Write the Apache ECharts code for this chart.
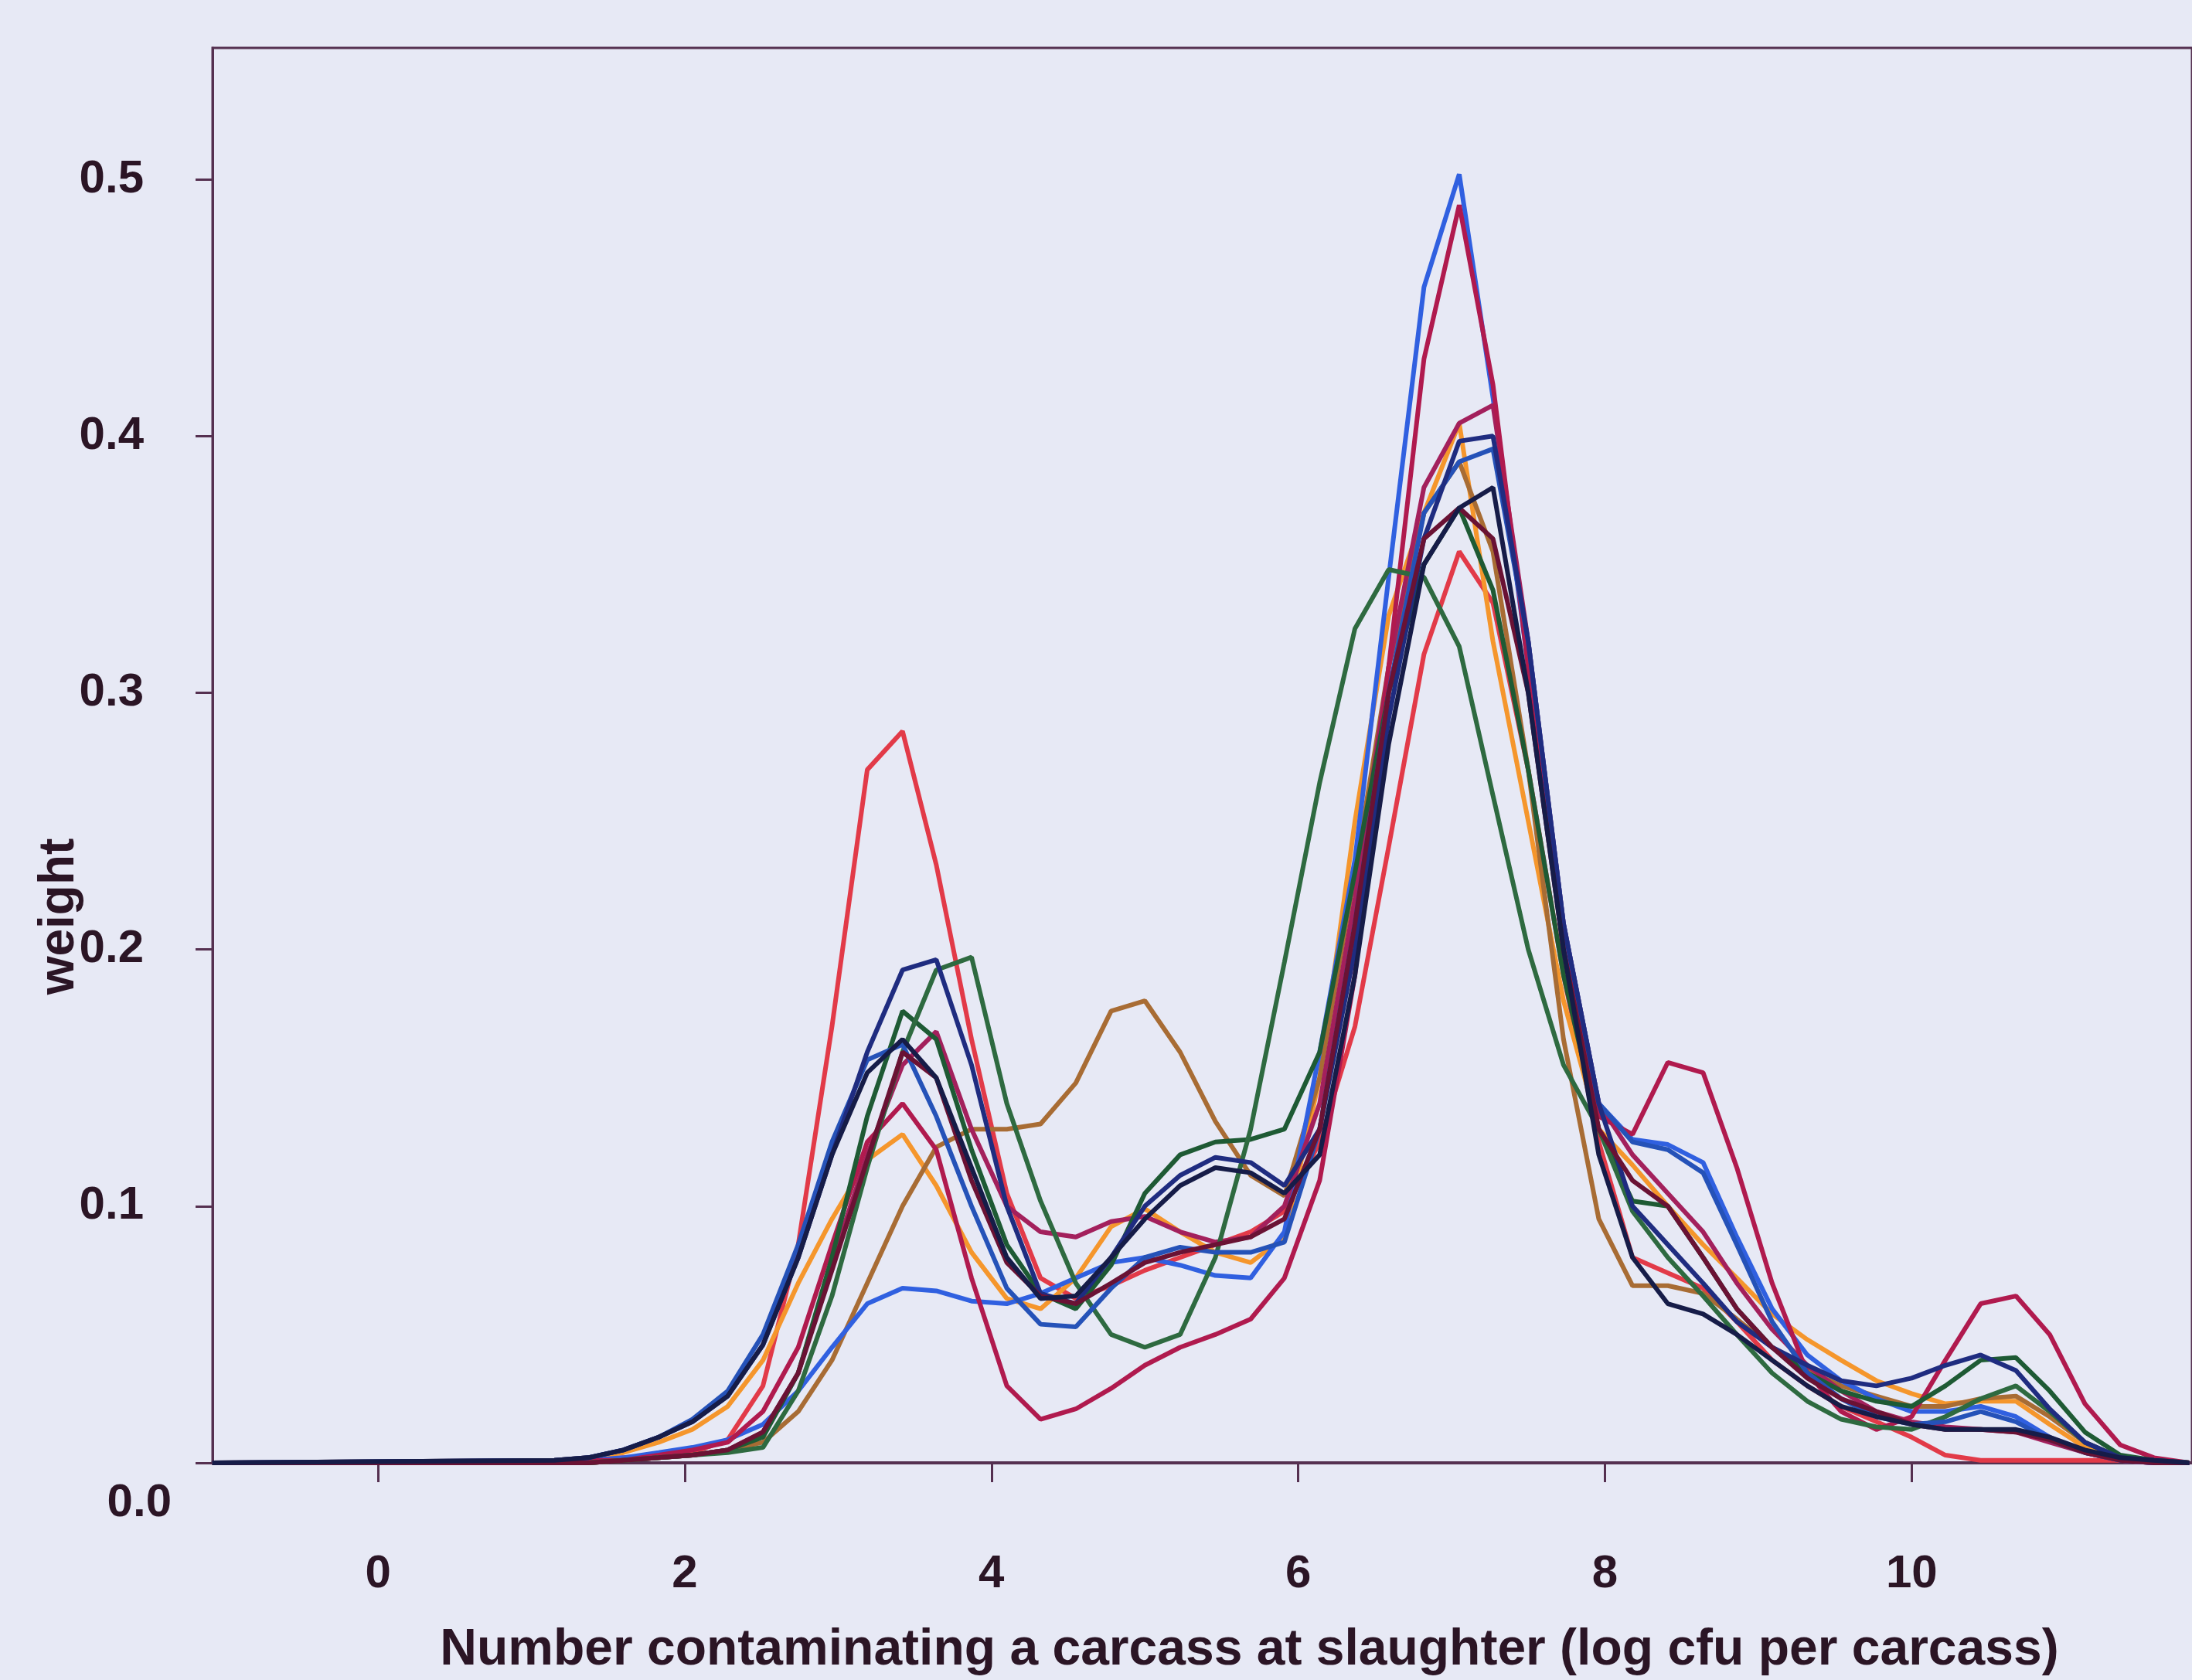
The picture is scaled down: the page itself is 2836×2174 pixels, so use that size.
<!DOCTYPE html>
<html>
<head>
<meta charset="utf-8">
<script src="https://cdn.jsdelivr.net/npm/echarts@6/dist/echarts.min.js"></script>
<style>
html,body{margin:0;padding:0;background:#e7e9f5;}
#chart{width:2836px;height:2174px;}
</style>
</head>
<body>
<div id="chart"></div>
<script>
// x grid (log cfu per carcass)
const xValues = [-1.08, 1.15, 1.37, 1.60, 1.83, 2.05, 2.28, 2.51, 2.74, 2.96, 3.19, 3.42, 3.64, 3.87, 4.10, 4.32, 4.55, 4.78, 5.00, 5.23, 5.46, 5.69, 5.91, 6.14, 6.37, 6.59, 6.82, 7.05, 7.27, 7.50, 7.73, 7.96, 8.18, 8.41, 8.64, 8.86, 9.09, 9.32, 9.54, 9.77, 10.00, 10.22, 10.45, 10.68, 10.90, 11.13, 11.36, 11.58, 11.81];

const xTickValues = [0, 2, 4, 6, 8, 10];
const yTickValues = [0, 0.1, 0.2, 0.3, 0.4, 0.5];
const yLabelValues = [0.1, 0.2, 0.3, 0.4, 0.5];
const yZeroLabel = [0];

const red = [0, 0,0.001,0.002,0.003,0.004,0.009,0.03,0.085, 0.17,0.27,0.285,0.233,0.165,0.105,0.072,0.064, 0.069,0.075,0.08,0.085,0.09,0.098,0.125,0.17, 0.24,0.315,0.355,0.335,0.27,0.19,0.125,0.08, 0.074,0.068,0.055,0.04,0.03,0.022,0.016,0.01, 0.003,0.001,0.001,0.001,0.001,0.001,0,0];
const blue = [0, 0,0.001,0.002,0.004,0.006,0.009,0.015,0.028, 0.045,0.062,0.068,0.067,0.063,0.062,0.066,0.072, 0.078,0.08,0.077,0.073,0.072,0.09,0.16,0.235, 0.345,0.458,0.502,0.415,0.31,0.2,0.14,0.126, 0.124,0.117,0.088,0.06,0.042,0.032,0.025,0.02, 0.02,0.022,0.018,0.01,0.004,0.001,0,0];
const crimson = [0, 0,0.001,0.001,0.003,0.005,0.008,0.02,0.045, 0.085,0.125,0.14,0.122,0.072,0.03,0.017,0.021, 0.029,0.038,0.045,0.05,0.056,0.072,0.11,0.19, 0.31,0.43,0.49,0.42,0.31,0.2,0.135,0.128, 0.156,0.152,0.115,0.07,0.035,0.02,0.013,0.018, 0.04,0.062,0.065,0.05,0.023,0.007,0.002,0];
const brown = [0, 0,0,0.001,0.002,0.003,0.005,0.008,0.02, 0.04,0.07,0.1,0.123,0.13,0.13,0.132,0.148, 0.176,0.18,0.16,0.133,0.112,0.104,0.15,0.23, 0.31,0.37,0.39,0.355,0.27,0.165,0.095,0.069, 0.069,0.066,0.056,0.045,0.036,0.03,0.026,0.022, 0.022,0.025,0.026,0.018,0.008,0.002,0.001,0];
const orange = [0, 0.001,0.002,0.004,0.008,0.013,0.022,0.04,0.07, 0.095,0.118,0.128,0.108,0.082,0.064,0.06,0.072, 0.092,0.099,0.09,0.082,0.078,0.088,0.15,0.25, 0.33,0.37,0.405,0.32,0.25,0.18,0.13,0.116, 0.1,0.085,0.072,0.058,0.048,0.04,0.032,0.027, 0.023,0.024,0.024,0.015,0.006,0.002,0.001,0];
const greenA = [0, 0,0,0.001,0.002,0.003,0.004,0.006,0.028, 0.065,0.115,0.16,0.192,0.197,0.14,0.102,0.07, 0.05,0.045,0.05,0.08,0.13,0.195,0.265,0.325, 0.348,0.345,0.318,0.26,0.2,0.155,0.13,0.098, 0.08,0.065,0.05,0.035,0.024,0.017,0.014,0.013, 0.018,0.025,0.03,0.02,0.008,0.002,0.001,0];
const greenB = [0, 0,0,0.001,0.002,0.003,0.005,0.01,0.035, 0.08,0.135,0.176,0.165,0.122,0.085,0.066,0.06, 0.077,0.105,0.12,0.125,0.126,0.13,0.16,0.23, 0.3,0.35,0.372,0.34,0.27,0.19,0.13,0.102, 0.1,0.08,0.06,0.045,0.035,0.028,0.024,0.022, 0.03,0.04,0.041,0.028,0.012,0.003,0.001,0];
const navy = [0, 0.001,0.002,0.005,0.01,0.016,0.026,0.046,0.08, 0.12,0.16,0.192,0.196,0.155,0.1,0.066,0.062, 0.08,0.1,0.112,0.119,0.117,0.108,0.13,0.2, 0.29,0.36,0.398,0.4,0.32,0.21,0.14,0.1, 0.085,0.07,0.055,0.045,0.038,0.032,0.03,0.033, 0.038,0.042,0.036,0.021,0.008,0.002,0.001,0];
const blueMed = [0, 0.001,0.002,0.005,0.01,0.017,0.028,0.05,0.085, 0.125,0.157,0.163,0.135,0.1,0.068,0.054,0.053, 0.068,0.08,0.084,0.082,0.082,0.086,0.13,0.21, 0.3,0.37,0.39,0.395,0.32,0.21,0.14,0.125, 0.122,0.113,0.085,0.055,0.035,0.025,0.018,0.015, 0.016,0.02,0.016,0.009,0.004,0.001,0,0];
const darkNavy = [0, 0.001,0.002,0.005,0.01,0.016,0.026,0.046,0.08, 0.12,0.152,0.165,0.15,0.115,0.08,0.064,0.065, 0.08,0.095,0.108,0.115,0.113,0.105,0.12,0.19, 0.28,0.35,0.372,0.38,0.3,0.2,0.12,0.08, 0.062,0.058,0.05,0.04,0.03,0.022,0.018,0.015, 0.013,0.013,0.013,0.01,0.005,0.002,0.001,0];
const maroonDark = [0, 0,0,0.001,0.002,0.003,0.005,0.012,0.035, 0.075,0.118,0.16,0.15,0.11,0.078,0.065,0.062, 0.07,0.078,0.082,0.085,0.088,0.095,0.13,0.21, 0.3,0.36,0.372,0.36,0.3,0.2,0.13,0.11, 0.1,0.08,0.06,0.045,0.033,0.025,0.02,0.015, 0.013,0.013,0.012,0.009,0.004,0.001,0,0];
const crimson2 = [0, 0,0,0.001,0.002,0.003,0.005,0.012,0.035, 0.078,0.12,0.155,0.168,0.13,0.1,0.09,0.088, 0.094,0.096,0.09,0.086,0.088,0.1,0.14,0.22, 0.31,0.38,0.405,0.412,0.32,0.21,0.14,0.12, 0.105,0.09,0.07,0.052,0.038,0.028,0.02,0.016, 0.014,0.013,0.012,0.008,0.004,0.001,0,0];

const seriesDefs = [
  {name:'red', data: red, color:'#e23a48'},
  {name:'orange', data: orange, color:'#f5962c'},
  {name:'brown', data: brown, color:'#a86c34'},
  {name:'blue', data: blue, color:'#3060e0'},
  {name:'crimson2', data: crimson2, color:'#a3205c'},
  {name:'crimson', data: crimson, color:'#b01a4e'},
  {name:'greenB', data: greenB, color:'#1e5a34'},
  {name:'greenA', data: greenA, color:'#2e6a40'},
  {name:'blueMed', data: blueMed, color:'#2552b8'},
  {name:'navy', data: navy, color:'#1f2c80'},
  {name:'maroonDark', data: maroonDark, color:'#6a1234'},
  {name:'darkNavy', data: darkNavy, color:'#161c48'}
];

const textColor = '#2b1525';
const frameColor = '#553050';
const fontFamily = '"Liberation Sans", Arial, sans-serif';
const labelStyle = {fontSize: 60, fontWeight: 'bold', color: textColor, fontFamily: fontFamily};

const chart = echarts.init(document.getElementById('chart'), null, {renderer:'canvas'});
chart.setOption({
  backgroundColor: '#e7e9f5',
  animation: false,
  grid: {left: 275, top: 62, right: -10, bottom: 273, show: true, borderColor: frameColor, borderWidth: 3, backgroundColor: 'transparent'},
  xAxis: {
    type: 'value', min: -1.079, max: 11.828,
    axisLine: {show: true, onZero: false, lineStyle: {color: frameColor, width: 4}},
    axisTick: {show: true, length: 25, customValues: xTickValues, lineStyle: {color: frameColor, width: 3}},
    axisLabel: Object.assign({customValues: xTickValues, margin: 114}, labelStyle),
    splitLine: {show: false},
    name: 'Number contaminating a carcass at slaughter (log cfu per carcass)',
    nameLocation: 'middle', nameGap: 210,
    nameTextStyle: {fontSize: 66, fontWeight: 'bold', color: textColor, fontFamily: fontFamily, padding: [0, 0, 0, 122]}
  },
  yAxis: [{
    type: 'value', min: 0, max: 0.5512, position: 'left',
    axisLine: {show: true, onZero: false, lineStyle: {color: frameColor, width: 3}},
    axisTick: {show: true, length: 22, customValues: yTickValues, lineStyle: {color: frameColor, width: 3}},
    axisLabel: Object.assign({customValues: yLabelValues, margin: 89, formatter: v => v.toFixed(1)}, labelStyle),
    splitLine: {show: false}
  }, {
    type: 'value', min: 0, max: 0.5512, position: 'left',
    axisLine: {show: false}, axisTick: {show: false}, splitLine: {show: false},
    axisLabel: Object.assign({customValues: yZeroLabel, margin: 53, verticalAlign: 'top', padding: [22, 0, 0, 0], formatter: v => v.toFixed(1)}, labelStyle)
  }],
  graphic: [{
    type: 'text', x: 77, y: 1186, rotation: Math.PI / 2,
    style: {text: 'weight', fontSize: 64, fontWeight: 'bold', fill: textColor, fontFamily: fontFamily, align: 'center', verticalAlign: 'middle'}
  }],
  series: seriesDefs.map(s => ({
    name: s.name, type: 'line', showSymbol: false, smooth: false, yAxisIndex: 0,
    data: xValues.map((x, i) => [x, s.data[i]]),
    lineStyle: {color: s.color, width: 6}, itemStyle: {color: s.color},
    emphasis: {disabled: true}
  }))
});
</script>
</body>
</html>
